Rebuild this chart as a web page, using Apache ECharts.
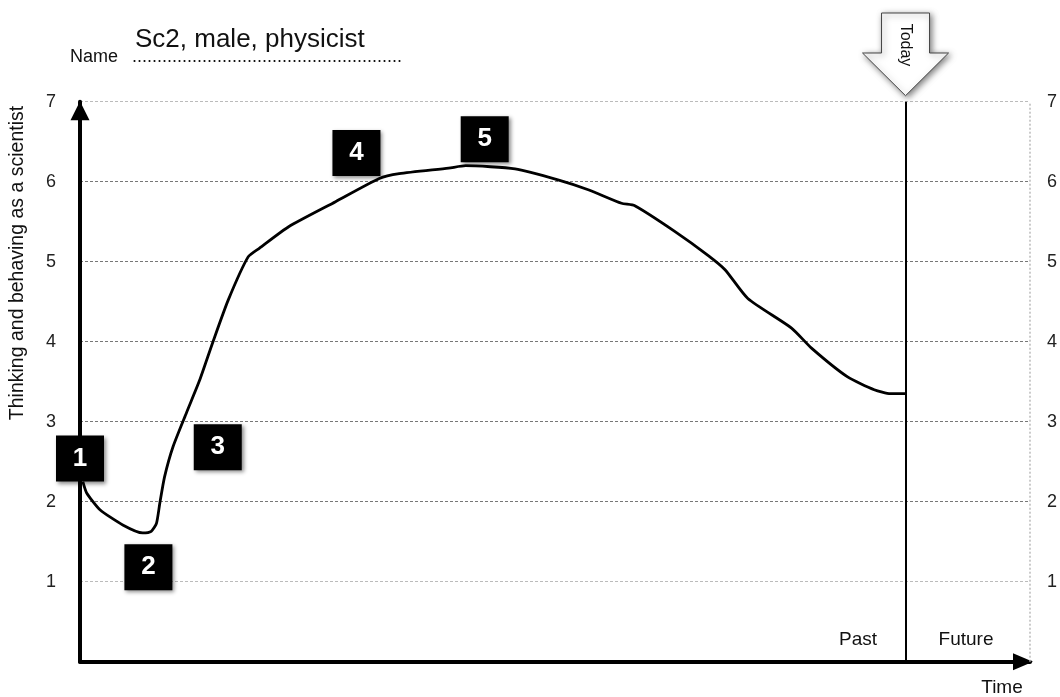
<!DOCTYPE html>
<html>
<head>
<meta charset="utf-8">
<script src="https://cdn.jsdelivr.net/npm/echarts@6/dist/echarts.min.js"></script>
<style>
html, body { margin: 0; padding: 0; background: #fff; }
#main { width: 1060px; height: 697px; }
</style>
</head>
<body>
<div id="main"></div>
<script>
// time runs 0..100 along the x axis, "today" sits near 87
var timeVals = [0.3, 0.7, 2.1, 4.5, 6.6, 7.5, 8.05, 8.4, 8.9, 9.8, 11.2, 12.6, 14.0, 15.6, 17.7, 18.9,
    22.0, 26.9, 31.5, 33.6, 38.8, 40.6, 45.8, 50.4, 53.5, 57.0, 58.4, 62.6, 66.1, 67.9, 70.3,
    74.9, 77.0, 80.8, 83.6, 85.3, 86.9];
var scoreVals = [2.25, 2.11, 1.9, 1.71, 1.61, 1.63, 1.73, 1.98, 2.31, 2.69, 3.11, 3.52, 4.0, 4.52, 5.06, 5.17,
    5.44, 5.75, 6.04, 6.1, 6.17, 6.2, 6.16, 6.02, 5.9, 5.73, 5.7, 5.38, 5.08, 4.9, 4.54,
    4.17, 3.92, 3.56, 3.4, 3.35, 3.35];
var yTicks = [1, 2, 3, 4, 5, 6, 7];
var markerNames = ['1', '2', '3', '4', '5'];
var markerTime = [0, 7.2, 14.5, 29.1, 42.6];
var markerScore = [2.54, 1.18, 2.68, 6.36, 6.53];
var todayTime = 86.9;
var timeMax = 100;

var font = 'Liberation Sans, Arial, Helvetica, sans-serif';
var chart = echarts.init(document.getElementById('main'));

var lineData = timeVals.map(function (t, i) {
    return [t, scoreVals[i]];
});
var markerData = markerNames.map(function (n, i) {
    return { name: n, value: [markerTime[i], markerScore[i]] };
});

function tickText(v) {
    return yTicks.indexOf(v) >= 0 ? String(v) : '';
}

var option = {
    animation: false,
    backgroundColor: '#fff',
    grid: { left: 80, right: 27, top: 101.7, bottom: 35.3 },
    xAxis: {
        type: 'value',
        min: 0,
        max: timeMax,
        axisLine: {
            show: true,
            symbol: ['none', 'triangle'],
            symbolSize: [17, 20],
            symbolOffset: [0, -7],
            lineStyle: { color: '#000', width: 4 }
        },
        axisTick: { show: false },
        axisLabel: { show: false },
        splitLine: { show: false }
    },
    yAxis: [
        {
            type: 'value',
            min: 0,
            max: 7,
            interval: 1,
            axisLine: {
                show: true,
                onZero: false,
                symbol: ['none', 'triangle'],
                symbolSize: [19, 19],
                symbolOffset: [0, -9],
                lineStyle: { color: '#000', width: 4 }
            },
            axisTick: { show: false },
            axisLabel: {
                margin: 24,
                color: '#222',
                fontSize: 18,
                fontFamily: font,
                formatter: tickText
            },
            splitLine: {
                show: true,
                lineStyle: {
                    type: [3, 2],
                    width: 1,
                    color: ['rgba(0,0,0,0)', '#bbb', '#777', '#777', '#777', '#777', '#777', '#bbb']
                }
            }
        },
        {
            type: 'value',
            min: 0,
            max: 7,
            interval: 1,
            position: 'right',
            axisLine: { show: false },
            axisTick: { show: false },
            splitLine: { show: false },
            axisLabel: {
                margin: 17,
                color: '#222',
                fontSize: 18,
                fontFamily: font,
                formatter: tickText
            }
        }
    ],
    series: [
        {
            type: 'line',
            data: lineData,
            smooth: 0.2,
            showSymbol: false,
            lineStyle: { color: '#000', width: 2.8 },
            markLine: {
                silent: true,
                symbol: 'none',
                label: { show: false },
                data: [
                    [
                        { coord: [todayTime, 0], lineStyle: { color: '#000', width: 2, type: 'solid' } },
                        { coord: [todayTime, 7] }
                    ],
                    [
                        { coord: [timeMax, 0], lineStyle: { color: '#bbb', width: 1.5, type: [2, 2] } },
                        { coord: [timeMax, 7] }
                    ]
                ]
            },
            z: 3
        },
        {
            type: 'scatter',
            data: markerData,
            symbol: 'rect',
            symbolSize: [48, 46],
            itemStyle: {
                color: '#000',
                opacity: 1,
                shadowBlur: 4,
                shadowColor: 'rgba(0,0,0,0.45)',
                shadowOffsetX: 2,
                shadowOffsetY: 2
            },
            label: {
                show: true,
                position: 'inside',
                formatter: '{b}',
                color: '#fff',
                fontSize: 26,
                fontWeight: 'bold',
                fontFamily: font
            },
            z: 5
        }
    ]
};
chart.setOption(option);

// today arrow placed above the today line
var todayTop = chart.convertToPixel({ gridIndex: 0 }, [todayTime, 7]);
var tx = todayTop[0];
var ty = todayTop[1];
chart.setOption({
    graphic: [
        {
            type: 'polygon',
            shape: {
                points: [
                    [tx - 24, 13], [tx + 24, 13], [tx + 24, 53], [tx + 43, 53],
                    [tx, ty - 6], [tx - 43, 53], [tx - 24, 53]
                ]
            },
            style: {
                fill: '#fff',
                stroke: '#444',
                lineWidth: 1,
                shadowBlur: 6,
                shadowColor: 'rgba(0,0,0,0.5)',
                shadowOffsetX: 2,
                shadowOffsetY: 2
            },
            z: 10
        },
        {
            type: 'text',
            x: tx,
            y: 45,
            rotation: -Math.PI / 2,
            style: {
                text: 'Today',
                font: '16px ' + font,
                fill: '#111',
                align: 'center',
                verticalAlign: 'middle'
            },
            z: 11
        },
        {
            type: 'text',
            x: 18,
            y: 263,
            rotation: Math.PI / 2,
            style: {
                text: 'Thinking and behaving as a scientist',
                font: '19.5px ' + font,
                fill: '#111',
                align: 'center',
                verticalAlign: 'middle'
            }
        },
        {
            type: 'text',
            x: 70,
            y: 57,
            style: { text: 'Name', font: '18px ' + font, fill: '#111', verticalAlign: 'middle' }
        },
        {
            type: 'text',
            x: 132,
            y: 57,
            style: {
                text: '......................................................',
                font: '18px ' + font,
                fill: '#111',
                verticalAlign: 'middle'
            }
        },
        {
            type: 'text',
            x: 135,
            y: 40,
            style: { text: 'Sc2, male, physicist', font: '26px ' + font, fill: '#111', verticalAlign: 'middle' }
        },
        {
            type: 'text',
            x: 858,
            y: 640,
            style: { text: 'Past', font: '19px ' + font, fill: '#111', align: 'center', verticalAlign: 'middle' }
        },
        {
            type: 'text',
            x: 966,
            y: 640,
            style: { text: 'Future', font: '19px ' + font, fill: '#111', align: 'center', verticalAlign: 'middle' }
        },
        {
            type: 'text',
            x: 1002,
            y: 688,
            style: { text: 'Time', font: '19px ' + font, fill: '#111', align: 'center', verticalAlign: 'middle' }
        }
    ]
});
</script>
</body>
</html>
